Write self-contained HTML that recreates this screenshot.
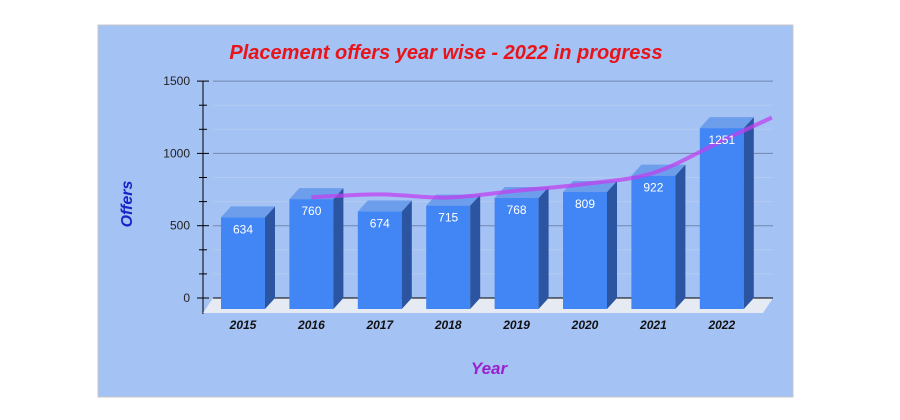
<!DOCTYPE html>
<html><head><meta charset="utf-8"><style>
body{margin:0;background:#fff;width:900px;height:415px;overflow:hidden;font-family:"Liberation Sans",sans-serif}
</style></head><body>
<svg id="chart" width="900" height="415" xmlns="http://www.w3.org/2000/svg">
<rect x="98" y="25" width="695" height="372" fill="#a4c2f4" stroke="#c8c8c8"/>
<text x="446" y="59" text-anchor="middle" font-size="20" font-weight="bold" font-style="italic" fill="#e8141a">Placement offers year wise - 2022 in progress</text>
<text transform="translate(132,204) rotate(-90)" text-anchor="middle" font-size="16" font-weight="bold" font-style="italic" fill="#1a22c8">Offers</text>
<text x="489" y="374" text-anchor="middle" font-size="17" font-weight="bold" font-style="italic" fill="#9a1fd0">Year</text>
<g id="grid"></g><g id="floor"></g><g id="bars"></g><g id="line"></g><g id="labels"></g>
</svg>
<script>
const years=["2015","2016","2017","2018","2019","2020","2021","2022"];
const offers=[634,760,674,715,768,809,922,1251];
const yTicks=[0,500,1000,1500];
const NS="http://www.w3.org/2000/svg";
const y0=298,scale=72.3/500,dx=10,dy=11,x0=221,step=68.4,bw=44;
function Y(v){return y0-v*scale;}
function X(i){return x0+i*step;}
function mk(tag,attrs,parent){const e=document.createElementNS(NS,tag);for(const k in attrs)e.setAttribute(k,attrs[k]);document.getElementById(parent).appendChild(e);return e;}
for(let k=0;k<=9;k++){
 const v=k*500/3,major=k%3===0;
 if(k>0){const g=mk("line",{x1:213,x2:773,y1:Y(v),y2:Y(v),stroke:major?"#6f86b0":"#b4cbf0","stroke-width":1},"grid");
 
 }
 const t=mk("line",{x1:major?197:199,x2:major?209:207,y1:Y(v),y2:Y(v),stroke:"#000"},"grid");
 
 
}
yTicks.forEach(v=>{const t=mk("text",{x:190,y:Y(v)+4,"text-anchor":"end","font-size":12,fill:"#222"},"grid");t.textContent=v;
 
 });
const ax=mk("line",{x1:203,x2:203,y1:Y(1500),y2:314,stroke:"#000"},"grid");


const fl=mk("polygon",{points:`213,${y0} 773,${y0} 763,${y0+15} 203,${y0+15}`,fill:"#e6eaf2"},"floor");


const bl=mk("line",{x1:213,x2:773,y1:y0,y2:y0,stroke:"#000"},"floor");


offers.forEach((v,i)=>{
 const x=X(i),top=Y(v)+dy,bot=y0+dy;
 const g=mk("g",{},"bars");
 
 
 const f=document.createElementNS(NS,"rect");f.setAttribute("x",x);f.setAttribute("y",top);f.setAttribute("width",bw);f.setAttribute("height",bot-top);f.setAttribute("fill","#4285f4");g.appendChild(f);
 const s=document.createElementNS(NS,"polygon");s.setAttribute("points",`${x+bw},${top} ${x+bw+dx},${top-dy} ${x+bw+dx},${bot-dy} ${x+bw},${bot}`);s.setAttribute("fill","#2b55a0");g.appendChild(s);
 const t=document.createElementNS(NS,"polygon");t.setAttribute("points",`${x},${top} ${x+dx},${top-dy} ${x+bw+dx},${top-dy} ${x+bw},${top}`);t.setAttribute("fill","#6d9eeb");g.appendChild(t);
 const l=mk("text",{x:x+bw/2,y:top+16,"text-anchor":"middle","font-size":12,fill:"#fff"},"labels");l.textContent=v;
 
 
 const c=mk("text",{x:x+bw/2,y:329,"text-anchor":"middle","font-size":12,"font-weight":"bold","font-style":"italic",fill:"#111"},"labels");c.textContent=years[i];
 
 
});
const pts=[];
for(let i=1;i<offers.length;i++)pts.push([X(i)+bw/2,Y((offers[i]+offers[i-1])/2)]);
const n=pts.length,a=pts[n-2],b=pts[n-1],ext=50;
const slope=(b[1]-a[1])/(b[0]-a[0]);
pts.push([b[0]+ext,b[1]+slope*ext]);
let d="M"+pts[0][0]+","+pts[0][1];
for(let i=1;i<pts.length;i++){
 const p0=pts[Math.max(0,i-2)],p1=pts[i-1],p2=pts[i],p3=pts[Math.min(pts.length-1,i+1)];
 const c1=[p1[0]+(p2[0]-p0[0])/6,p1[1]+(p2[1]-p0[1])/6],c2=[p2[0]-(p3[0]-p1[0])/6,p2[1]-(p3[1]-p1[1])/6];
 d+=` C${c1[0]},${c1[1]} ${c2[0]},${c2[1]} ${p2[0]},${p2[1]}`;}
const ln=mk("path",{d:d,fill:"none",stroke:"#c040f0","stroke-opacity":0.75,"stroke-width":4},"line");


</script>
</body></html>
